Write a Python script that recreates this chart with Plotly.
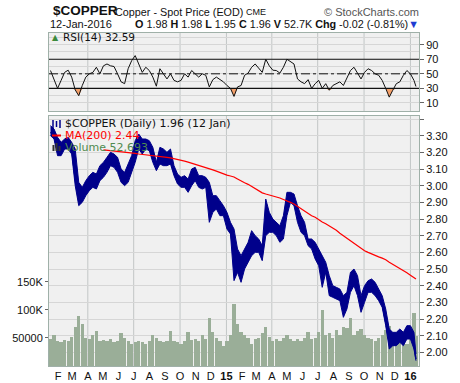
import plotly.graph_objects as go
import pandas as pd
import numpy as np

# ---------------- data (weekly readings, last bar = 12 Jan 2016) ----------------
dates = list(pd.date_range("2014-01-17", "2016-01-08", freq="W-FRI")) + [pd.Timestamp("2016-01-12")]

close = [
    # 2014
    3.32, 3.30, 3.20,
    3.24, 3.26, 3.25, 3.22,
    3.04, 2.92, 2.95, 3.00,
    3.02, 3.05, 3.03, 3.10,
    3.09, 3.14, 3.17, 3.14, 3.12,
    3.04, 3.03, 3.10, 3.15,
    3.24, 3.27, 3.24, 3.26,
    3.23, 3.17, 3.11, 3.20, 3.16,
    3.17, 3.15, 3.08, 3.03,
    3.01, 3.03, 3.00, 3.06, 3.08,
    3.02, 3.03, 3.02, 2.88,
    2.90, 2.89, 2.86, 2.85,
    # 2015
    2.78, 2.73, 2.58, 2.55, 2.48,
    2.58, 2.62, 2.64, 2.64,
    2.63, 2.60, 2.80, 2.78,
    2.76, 2.74, 2.70, 2.78,
    2.92, 2.93, 2.92, 2.82, 2.76,
    2.74, 2.66, 2.65, 2.60,
    2.55, 2.52, 2.50, 2.40, 2.36,
    2.36, 2.34, 2.28, 2.32,
    2.42, 2.44, 2.38, 2.28,
    2.34, 2.40, 2.40, 2.38, 2.33,
    2.29, 2.18, 2.06, 2.08,
    2.08, 2.10, 2.07, 2.12,
    # 2016
    2.13, 2.04, 1.96,
]
high = [
    3.36, 3.34, 3.29,
    3.26, 3.28, 3.29, 3.26,
    3.22, 3.02, 2.99, 3.03,
    3.06, 3.08, 3.07, 3.12,
    3.14, 3.17, 3.20, 3.19, 3.17,
    3.10, 3.08, 3.13, 3.18,
    3.27, 3.31, 3.28, 3.28,
    3.27, 3.23, 3.14, 3.23, 3.22,
    3.20, 3.22, 3.12, 3.07,
    3.05, 3.06, 3.04, 3.10, 3.11,
    3.06, 3.06, 3.05, 3.02,
    2.94, 2.94, 2.91, 2.88,
    2.84, 2.78, 2.74, 2.62, 2.58,
    2.62, 2.66, 2.73, 2.70,
    2.68, 2.64, 2.92, 2.84,
    2.80, 2.78, 2.76, 2.82,
    2.96, 2.96, 2.95, 2.88, 2.82,
    2.78, 2.68, 2.68, 2.66,
    2.62, 2.58, 2.54, 2.46, 2.40,
    2.39, 2.38, 2.34, 2.36,
    2.48, 2.50, 2.46, 2.34,
    2.40, 2.43, 2.44, 2.42, 2.38,
    2.34, 2.26, 2.14, 2.12,
    2.12, 2.14, 2.12, 2.16,
    2.16, 2.12, 1.99,
]
low = [
    3.30, 3.28, 3.18,
    3.18, 3.22, 3.22, 3.19,
    3.00, 2.88, 2.90, 2.94,
    2.97, 2.99, 2.98, 3.03,
    3.05, 3.08, 3.12, 3.11, 3.08,
    3.02, 3.00, 3.02, 3.08,
    3.14, 3.22, 3.19, 3.22,
    3.21, 3.14, 3.09, 3.13, 3.12,
    3.12, 3.13, 3.06, 3.01,
    2.99, 2.99, 2.96, 3.00, 3.03,
    2.99, 2.98, 2.99, 2.78,
    2.84, 2.86, 2.82, 2.82,
    2.74, 2.71, 2.43, 2.48, 2.42,
    2.50, 2.54, 2.58, 2.60,
    2.60, 2.55, 2.70, 2.72,
    2.72, 2.70, 2.66, 2.68,
    2.82, 2.90, 2.88, 2.78, 2.72,
    2.70, 2.64, 2.62, 2.56,
    2.52, 2.39, 2.48, 2.34, 2.33,
    2.32, 2.31, 2.21, 2.26,
    2.36, 2.40, 2.34, 2.24,
    2.30, 2.36, 2.36, 2.34, 2.31,
    2.27, 2.16, 2.02, 2.04,
    2.04, 2.06, 2.04, 2.08,
    2.08, 2.02, 1.95,
]

volume_k = [
    48, 56, 45,
    42, 46, 44, 52,
    70, 90, 75, 50,
    48, 55, 62, 45,
    46, 44, 48, 42, 45,
    58, 50, 44, 40,
    42, 45, 43, 40,
    45, 55, 50, 45, 42,
    44, 62, 45, 42,
    40, 45, 60, 46, 48,
    45, 55, 48, 85,
    60, 50, 45, 35,
    45, 55, 110, 75, 60,
    55, 50, 40, 48,
    50, 58, 70, 52,
    45, 48, 45, 50,
    55, 48, 45, 48, 45,
    50, 60, 48, 50,
    60, 100, 55, 58, 50,
    65, 55, 70, 68,
    85, 55, 62, 66,
    55, 50, 48, 45, 50,
    55, 65, 72, 50,
    58, 55, 52, 40,
    60, 95, 53,
]

rsi = [
    54.5, 41, 30,
    41, 52, 55, 45.5,
    28, 20, 34, 45.5,
    50, 52, 59, 50,
    61, 63.5, 61, 60, 50,
    39, 36.5, 57, 68,
    75, 63.5, 52, 59,
    54.5, 45.5, 33, 57, 50,
    43, 50, 41, 39,
    41, 50, 45.5, 54.5, 50,
    45.5, 50, 48, 32,
    42, 45.5, 42, 39,
    34, 30, 19, 32, 34,
    48, 51, 59, 63.5,
    57, 52, 70, 61,
    55, 54.5, 51, 59,
    70, 67, 63.5, 43, 39,
    36.5, 42, 30, 36.5,
    41, 30, 36.5, 27.5, 34,
    36.5, 39, 34, 45.5,
    54.5, 59, 50, 43,
    52, 57, 54.5, 50, 48,
    41, 30, 18, 27.5,
    36.5, 39, 48, 54.5,
    50, 41, 32.59,
]

ma_start = 15  # MA(200) line begins with the week of 2 May 2014
ma200 = [
    3.215, 3.213, 3.212, 3.21, 3.208,
    3.205, 3.203, 3.20, 3.197,
    3.194, 3.19, 3.188, 3.185,
    3.182, 3.179, 3.176, 3.174, 3.172,
    3.17, 3.167, 3.163, 3.158,
    3.152, 3.147, 3.141, 3.135, 3.128,
    3.122, 3.117, 3.111, 3.103,
    3.095, 3.087, 3.078, 3.07,
    3.063, 3.058, 3.052, 3.04, 3.027,
    3.017, 3.008, 2.995, 2.98,
    2.968, 2.957, 2.95, 2.945,
    2.94, 2.935, 2.926, 2.917,
    2.91, 2.90, 2.89, 2.875, 2.862,
    2.85, 2.835, 2.82, 2.81,
    2.795, 2.782, 2.772, 2.76, 2.75,
    2.733, 2.715, 2.70, 2.683,
    2.665, 2.652, 2.64, 2.625,
    2.61, 2.60, 2.59, 2.58, 2.573,
    2.565, 2.555, 2.54, 2.528,
    2.516, 2.505, 2.492, 2.478,
    2.463, 2.447, 2.44,
]

month_ticks = list(pd.date_range("2014-02-01", "2016-01-01", freq="MS"))
month_text = ["F", "M", "A", "M", "J", "J", "A", "S", "O", "N", "D", "<b>15</b>",
              "F", "M", "A", "M", "J", "J", "A", "S", "O", "N", "D", "<b>16</b>"]
quarter_lines = list(pd.date_range("2014-04-01", "2016-01-01", freq="QS"))
price_ticks = [round(2.0 + 0.1 * i, 2) for i in range(15)]
vol_ticks = [50000, 100000, 150000]
vol_text = ["50000", "100K", "150K"]
rsi_ticks = [10, 30, 50, 70, 90]

# ---------------- layout geometry ----------------
FW, FH = 460, 383
L, R, T, B = 49, 419, 33, 366
W, PH = R - L, B - T
MAIN_TOP, RSI_BOT = 116, 111


def fx(px):
    return (px - L) / W


def fy(py):
    return (B - py) / PH


NAVY = "#00008b"
VOLC = "#9aae98"
BORDER = "#9fb0a8"
GRID = "#d6d6d6"
QGRID = "#c2c6c6"
BG = "#f0f0f0"
FONT = "Liberation Sans, Arial, sans-serif"
LFONT = "DejaVu Sans, Verdana, sans-serif"

vol = [v * 1000 for v in volume_k]

fig = go.Figure()

fig.add_trace(go.Bar(x=dates, y=vol, marker=dict(color=VOLC, line=dict(width=0)),
                     width=6.5 * 86400000, xaxis="x", yaxis="y", hoverinfo="skip"))

# daily price bars are dense: draw them as a navy high-low band with the close path
fig.add_trace(go.Scatter(x=dates, y=high, mode="lines", line=dict(color=NAVY, width=1),
                         xaxis="x", yaxis="y3", hoverinfo="skip"))
fig.add_trace(go.Scatter(x=dates, y=low, mode="lines", line=dict(color=NAVY, width=1),
                         fill="tonexty", fillcolor=NAVY, xaxis="x", yaxis="y3", hoverinfo="skip"))
fig.add_trace(go.Scatter(x=dates, y=close, mode="lines", line=dict(color=NAVY, width=1.5),
                         xaxis="x", yaxis="y3"))

fig.add_trace(go.Scatter(x=dates[ma_start:], y=ma200, mode="lines",
                         line=dict(color="#ff0000", width=1.2), xaxis="x", yaxis="y3"))

# RSI panel
fig.add_trace(go.Scatter(x=dates, y=[30] * len(dates), mode="lines",
                         line=dict(width=0, color="rgba(0,0,0,0)"), xaxis="x2", yaxis="y2",
                         hoverinfo="skip"))
fig.add_trace(go.Scatter(x=dates, y=np.minimum(np.array(rsi), 30), mode="lines",
                         line=dict(width=0, color="rgba(0,0,0,0)"), fill="tonexty",
                         fillcolor="#f4a06a", xaxis="x2", yaxis="y2", hoverinfo="skip"))
fig.add_trace(go.Scatter(x=dates, y=rsi, mode="lines", line=dict(color="#111111", width=1),
                         xaxis="x2", yaxis="y2"))

shapes = []
for q in quarter_lines:
    for xr, yr in (("x", "y domain"), ("x2", "y2 domain")):
        shapes.append(dict(type="line", xref=xr, yref=yr, x0=q, x1=q, y0=0, y1=1, layer="below",
                           line=dict(color=QGRID, width=1)))
for lvl, dash in ((70, "solid"), (30, "solid"), (50, "dashdot")):
    shapes.append(dict(type="line", xref="x2 domain", yref="y2", x0=0, x1=1, y0=lvl, y1=lvl,
                       line=dict(color="#111111", width=1.2 if dash == "solid" else 1, dash=dash)))
# legend icons
shapes += [
    dict(type="line", xref="paper", yref="paper", x0=fx(53), x1=fx(53), y0=fy(128), y1=fy(120),
         line=dict(color=NAVY, width=1.5)),
    dict(type="line", xref="paper", yref="paper", x0=fx(56.5), x1=fx(56.5), y0=fy(127), y1=fy(121),
         line=dict(color=NAVY, width=1.5)),
    dict(type="line", xref="paper", yref="paper", x0=fx(60), x1=fx(60), y0=fy(128), y1=fy(120),
         line=dict(color=NAVY, width=1.5)),
    dict(type="line", xref="paper", yref="paper", x0=fx(52), x1=fx(61), y0=fy(135.5), y1=fy(135.5),
         line=dict(color="#ff0000", width=2)),
    dict(type="rect", xref="paper", yref="paper", x0=fx(52.5), x1=fx(54.5), y0=fy(151), y1=fy(145),
         fillcolor="#333", line=dict(width=0)),
    dict(type="rect", xref="paper", yref="paper", x0=fx(55.5), x1=fx(57.5), y0=fy(151), y1=fy(143),
         fillcolor="#333", line=dict(width=0)),
    dict(type="rect", xref="paper", yref="paper", x0=fx(58.5), x1=fx(60.5), y0=fy(151), y1=fy(146),
         fillcolor="#333", line=dict(width=0)),
]


def ann(x, y, text, size=11, color="#111", family=FONT, xanchor="left"):
    return dict(x=fx(x), y=fy(y), xref="paper", yref="paper", text=text, showarrow=False,
                xanchor=xanchor, yanchor="middle", borderpad=0,
                font=dict(size=size, color=color, family=family))


annotations = [
    ann(52, 11, "<b>$COPPER</b>", size=13.5),
    ann(114, 11.5, "Copper - Spot Price (EOD)", size=10.8),
    ann(245, 12, "CME", size=9),
    ann(420, 11.5, "© StockCharts.com", size=11, color="#555", xanchor="right"),
    ann(49, 24.5, "12-Jan-2016", size=11),
    ann(420, 24.5, "<b>O</b> 1.98 <b>H</b> 1.98 <b>L</b> 1.95 <b>C</b> 1.96 <b>V</b> 52.7K "
                   "<b>Chg</b> -0.02 (-0.81%)<span style='color:#1e3cd2'>▼</span>",
        size=10.8, xanchor="right"),
    ann(51, 37.5, "▲", size=8, color="#3c8a3c", family=LFONT),
    ann(62, 37.5, "RSI(14) 32.59", size=10.5, family=LFONT),
    ann(64, 124, "$COPPER (Daily) 1.96 (12 Jan)", size=11, family=LFONT),
    ann(64, 135.5, "MA(200) 2.44", size=11, color="#ff0000", family=LFONT),
    ann(64, 147, "Volume 52,693", size=11, color="#4f8a4f", family=LFONT),
]

main_dom = [0, fy(MAIN_TOP)]
rsi_dom = [fy(RSI_BOT), 1]

fig.update_layout(
    width=FW, height=FH,
    margin=dict(l=L, r=FW - R, t=T, b=FH - B, pad=0, autoexpand=False),
    paper_bgcolor="white", plot_bgcolor=BG,
    showlegend=False, bargap=0,
    font=dict(family=FONT, size=11, color="#111"),
    xaxis=dict(type="date", range=["2014-01-14", "2016-01-18"], anchor="y", domain=[0, 1],
               tickvals=month_ticks, ticktext=month_text, ticks="", showgrid=False,
               showline=True, mirror=True, linecolor=BORDER, linewidth=1, automargin=False,
               rangeslider=dict(visible=False), tickfont=dict(size=11, color="#111")),
    xaxis2=dict(type="date", matches="x", anchor="y2", domain=[0, 1], showticklabels=False,
                ticks="", showgrid=False, showline=True, mirror=True, linecolor=BORDER,
                automargin=False),
    yaxis=dict(domain=main_dom, anchor="x", side="left", range=[0, 446000],
               tickvals=vol_ticks, ticktext=vol_text, ticks="outside", ticklen=3,
               tickcolor="#666", showgrid=False, zeroline=False, showline=True, mirror=True,
               linecolor=BORDER, automargin=False, tickfont=dict(size=11, color="#111")),
    yaxis3=dict(overlaying="y", anchor="x", side="right", range=[1.918, 3.418],
                tickvals=price_ticks, ticktext=["%.2f" % v if v < 3.35 else "" for v in price_ticks],
                ticks="outside", ticklen=4, tickcolor="#666", showgrid=True, gridcolor=GRID,
                gridwidth=1, zeroline=False, showline=False, automargin=False,
                tickfont=dict(size=11, color="#111")),
    yaxis2=dict(domain=rsi_dom, anchor="x2", side="right", range=[-1, 106],
                tickvals=rsi_ticks, ticks="outside", ticklen=4, tickcolor="#666",
                showgrid=True, gridcolor=GRID, zeroline=False, automargin=False,
                minor=dict(tickvals=[0, 20, 40, 60, 80, 100], showgrid=True, gridcolor=GRID, ticks=""),
                showline=True, mirror=True, linecolor=BORDER, tickfont=dict(size=11, color="#111")),
    shapes=shapes, annotations=annotations,
)

fig.write_html("out.html", config={"displayModeBar": False},
               post_script="document.body.style.margin='0';document.body.style.padding='0';")
